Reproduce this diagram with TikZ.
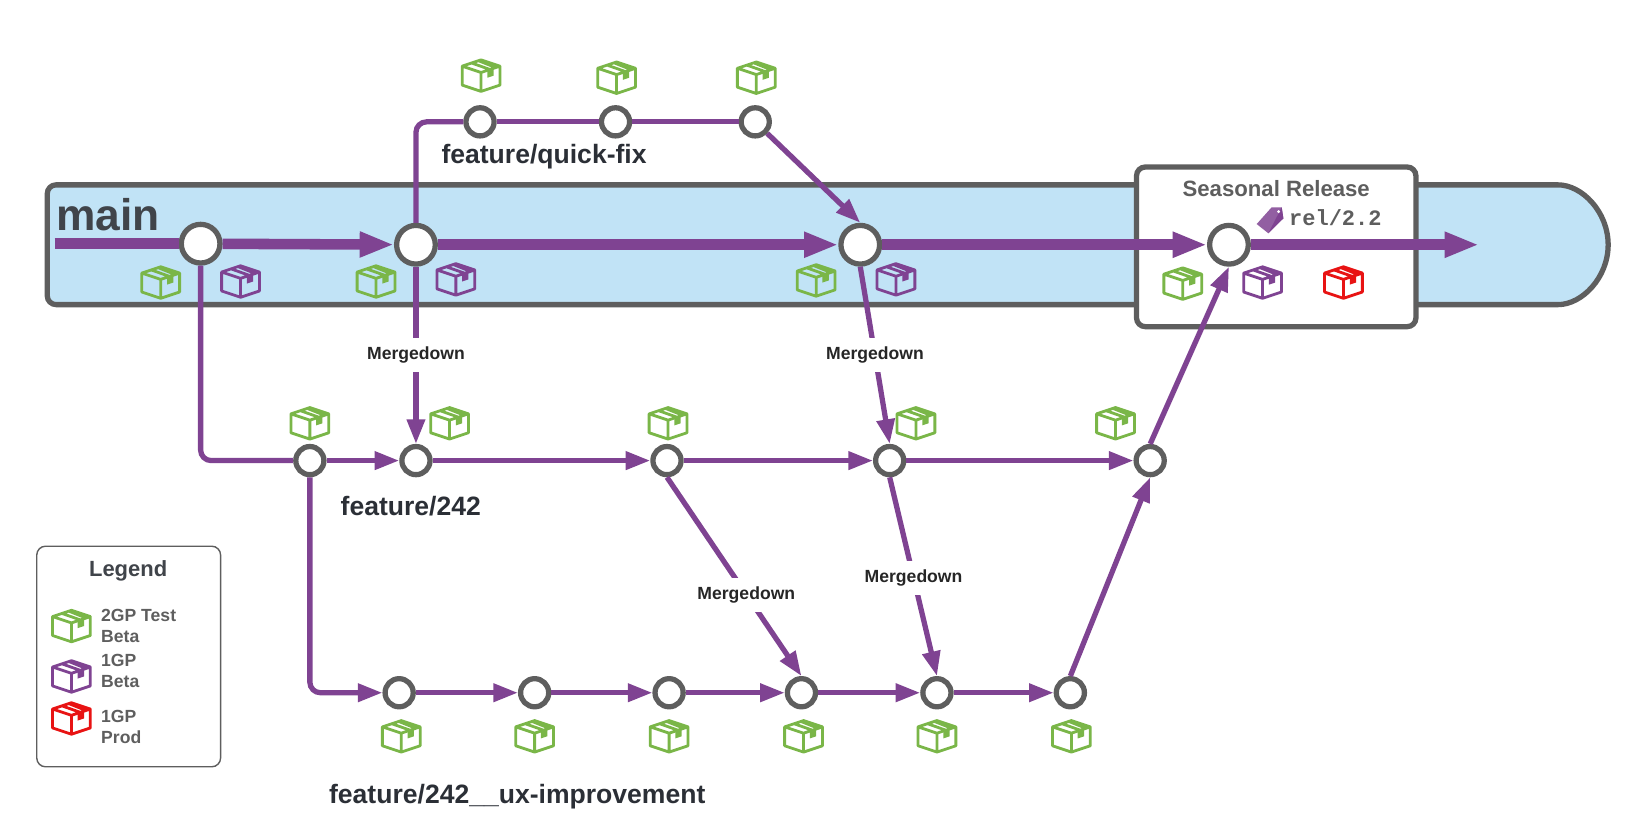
\documentclass[tikz,border=0pt]{standalone}
\usepackage{fontspec}
\setmainfont{Liberation Sans}
\setmonofont{Liberation Mono}
\usetikzlibrary{arrows.meta}
\definecolor{gitpurple}{HTML}{7F4392}
\definecolor{gitgray}{HTML}{5E5E5E}
\definecolor{bandblue}{HTML}{C1E3F6}
\definecolor{boxgreen}{HTML}{7AB648}
\definecolor{boxred}{HTML}{E81313}
\definecolor{titledark}{HTML}{2B2F36}
\tikzset{
  commit/.style={circle,draw=gitgray,fill=white,line width=3pt,inner sep=0pt,minimum size=16pt},
  maincommit/.style={commit,minimum size=22pt},
  mainline/.style={draw=gitpurple,line width=6pt,-{Triangle[length=19.5pt,width=13.5pt]}},
  branch/.style={draw=gitpurple,line width=3pt,-{Triangle[length=14pt,width=10pt]}},
  plainbranch/.style={draw=gitpurple,line width=3pt,rounded corners=6pt},
  mergelabel/.style={fill=white,inner xsep=1pt,inner ysep=5pt,text=black!85,font=\bfseries\fontsize{10}{12}\selectfont},
  branchlabel/.style={text=titledark,anchor=west,inner xsep=0pt,font=\bfseries\fontsize{15.1}{18}\selectfont},
  legendtext/.style={text=gitgray,anchor=west,align=left,inner xsep=0pt,font=\bfseries\fontsize{10}{12}\selectfont},
  boxicon/.pic={
    \draw[line width=1.6pt,line join=round,fill=none]
      (-18,-9) -- (0,-15) -- (18,-9) -- (18,9) -- (0,15) -- (-18,9) -- cycle
      (-18,-9) -- (0,-3) -- (18,-9) (0,-3) -- (0,15)
      (-9,-12) -- (8,-6) (-2,-14) -- (13,-8);
    \fill (6,-5.5) -- (12,-7.5) -- (12,0) -- (6,2) -- cycle;
  }
}
\begin{document}
\begin{tikzpicture}[x=0.021cm,y=-0.021cm]
  \useasboundingbox (0,0) rectangle (1568,785.4);

  % main band and release box
  \draw[fill=bandblue,draw=gitgray,line width=3pt,rounded corners=5pt]
    (700,176) -- (45,176) -- (45,290) -- (1475,290) arc (90:-90:56 and 57) -- cycle;
  \draw[fill=white,draw=gitgray,line width=3pt,rounded corners=5pt]
    (1082,159) rectangle (1348,311);

  \foreach \name/\x/\y in {m1/191/232,m2/396/233,m3/819/233,m4/1170/233}
    \node[maincommit] (\name) at (\x,\y) {};
  \foreach \name/\x/\y in {q1/457/116,q2/586/116,q3/719/116,
      f1/295/438.5,f2/396/438.5,f3/635/438.5,f4/847/438.5,f5/1095/438.5,
      u1/380/659.5,u2/509/659.5,u3/637/659.5,u4/763/659.5,u5/892/659.5,u6/1019/659.5}
    \node[commit] (\name) at (\x,\y) {};
  \coordinate (mainstart) at (52,232);
  \coordinate (mainend) at (1408,233);

  % main line
  \draw[draw=gitpurple,line width=6pt] (mainstart) -- (m1);
  \draw[mainline] (m1) -- (m2);
  \draw[mainline] (m2) -- (m3);
  \draw[mainline] (m3) -- (m4);
  \draw[mainline] (m4) -- (mainend);

  % feature/quick-fix
  \draw[plainbranch] (m2) |- (q1);
  \draw[plainbranch] (q1) -- (q2);
  \draw[plainbranch] (q2) -- (q3);
  \draw[branch] (q3) -- (m3.north);

  % feature/242
  \draw[plainbranch] (m1) |- (f1);
  \draw[branch] (f1) -- (f2);
  \draw[branch] (f2) -- (f3);
  \draw[branch] (f3) -- (f4);
  \draw[branch] (f4) -- (f5);
  \draw[branch] (f5.north) -- (m4.south);
  \draw[branch] (m2) -- node[mergelabel] (md1) {Mergedown} (f2);
  \draw[branch] (m3.south) -- node[mergelabel] (md2) {Mergedown} (f4.north);

  % feature/242__ux-improvement
  \draw[branch,rounded corners=6pt] (f1) |- (u1);
  \draw[branch] (u1) -- (u2);
  \draw[branch] (u2) -- (u3);
  \draw[branch] (u3) -- (u4);
  \draw[branch] (u4) -- (u5);
  \draw[branch] (u5) -- (u6);
  \draw[branch] (u6.north) -- (f5.south);
  \draw[branch] (f3.south) -- node[mergelabel,pos=.59] (md3) {Mergedown} (u4.north);
  \draw[branch] (f4.south) -- node[mergelabel,pos=.505] (md4) {Mergedown} (u5.north);

  % packages
  \foreach \x/\y in {458/72,587/74,720/74,153/269,358/268,777/267,1126/270,
      295/403,428/403,636/403,872/403,1062/403,
      382/701,509/701,637/701,765/701,892/701,1020/701,68/596}
    \pic[boxgreen] at (\x,\y) {boxicon};
  \foreach \x/\y in {229/268,434/266,853/266,1202/269,68/644}
    \pic[gitpurple] at (\x,\y) {boxicon};
  \foreach \x/\y in {1279/269,68/684}
    \pic[boxred] at (\x,\y) {boxicon};

  % tag
  \fill[gitpurple!85!white] (1196.4,213.3) -- (1207.5,222.1) -- (1221.8,207.9)
    -- (1220.2,197.4) -- (1210.6,197.4) -- cycle;
  \fill[gitpurple] (1207.5,222.1) -- (1221.8,207.9) -- (1220.2,197.4) -- cycle;
  \fill[white] (1217.3,201.5) circle (1.5);

  % labels
  \node[anchor=west,inner xsep=0pt,text=titledark!90,font=\bfseries\fontsize{25.2}{30}\selectfont] (mainlabel) at (53,204) {main};
  \node[branchlabel] (quicklabel) at (420,149) {feature/quick-fix};
  \node[branchlabel] (featlabel) at (324,482) {feature/242};
  \node[branchlabel] (uxlabel) at (313,758) {feature/242\_\_ux-improvement};
  \node[text=gitgray,font=\bfseries\fontsize{12.6}{15}\selectfont] (seasonlabel) at (1215,180) {Seasonal Release};
  \node[text=gitgray,anchor=west,inner xsep=0pt,font=\ttfamily\bfseries\fontsize{12.5}{15}\selectfont] (taglabel) at (1227,207) {rel/2.2};

  % legend
  \draw[draw=gitgray,line width=.8pt,rounded corners=5pt] (35,520) rectangle (210,730);
  \node[text=titledark!90,font=\bfseries\fontsize{12.5}{15}\selectfont] (legendtitle) at (122,543) {Legend};
  \node[legendtext] (leg1) at (96,596) {2GP Test\\Beta};
  \node[legendtext] (leg2) at (96,639) {1GP\\Beta};
  \node[legendtext] (leg3) at (96,692) {1GP\\Prod};
\end{tikzpicture}
\end{document}
